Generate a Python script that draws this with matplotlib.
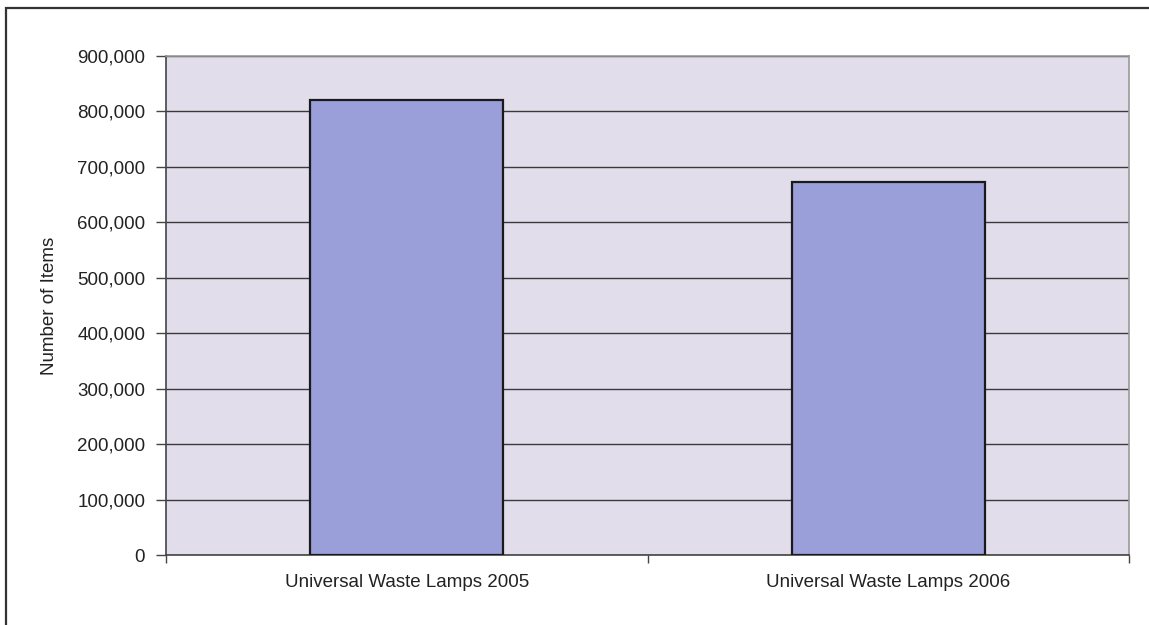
import matplotlib
matplotlib.use("Agg")
import matplotlib.pyplot as plt
from matplotlib.patches import Rectangle
from matplotlib.ticker import FuncFormatter, MultipleLocator, FixedLocator

categories = ["Universal Waste Lamps 2005", "Universal Waste Lamps 2006"]
values = [821000, 673000]
y_ticks = [0, 100000, 200000, 300000, 400000, 500000, 600000, 700000, 800000, 900000]

plt.rcParams['font.family'] = ['Liberation Sans', 'DejaVu Sans']

fig = plt.figure(figsize=(11.49, 6.25), dpi=100)
fig.patch.set_facecolor('white')
ax = fig.add_axes([166 / 1149, 1 - 555 / 625, (1129 - 166) / 1149, (555 - 56) / 625])
ax.set_facecolor('#E1DDEB')

x = list(range(len(categories)))
ax.bar(x, values, width=0.4, color='#9A9ED9', edgecolor='#1a1a1a', linewidth=1.6, zorder=3)

ax.set_xlim(-0.5, len(categories) - 0.5)
ax.set_ylim(0, 900000)
ax.set_yticks(y_ticks)
ax.yaxis.set_major_formatter(FuncFormatter(lambda v, p: f"{int(v):,}"))
ax.grid(axis='y', color='#3a3a3a', linewidth=1.0, zorder=1)
ax.set_axisbelow(True)

ax.set_xticks(x)
ax.set_xticklabels(categories, fontsize=13.5, color='#222222')
ax.tick_params(axis='x', which='major', length=0, pad=14)
ax.xaxis.set_minor_locator(FixedLocator([-0.5, 0.5, 1.5]))
ax.tick_params(axis='x', which='minor', length=6, width=1, color='#444444', direction='out')
ax.tick_params(axis='y', labelsize=13.5, length=7, width=1, color='#444444', pad=8, labelcolor='#222222')

ax.set_ylabel("Number of Items", fontsize=13.5, color='#222222', labelpad=14)

for side in ['top', 'right']:
    ax.spines[side].set_color('#999999')
    ax.spines[side].set_linewidth(1.2)
for side in ['left', 'bottom']:
    ax.spines[side].set_color('#444444')
    ax.spines[side].set_linewidth(1.2)

# outer chart frame (cut off at right and bottom like the scan)
frame = Rectangle((5.5 / 1149, -0.05), 1.1, 1 - 8 / 625 + 0.05, transform=fig.transFigure,
                  fill=False, edgecolor='#333333', linewidth=1.6)
fig.patches.append(frame)

fig.savefig("out.png", dpi=100, facecolor='white')
